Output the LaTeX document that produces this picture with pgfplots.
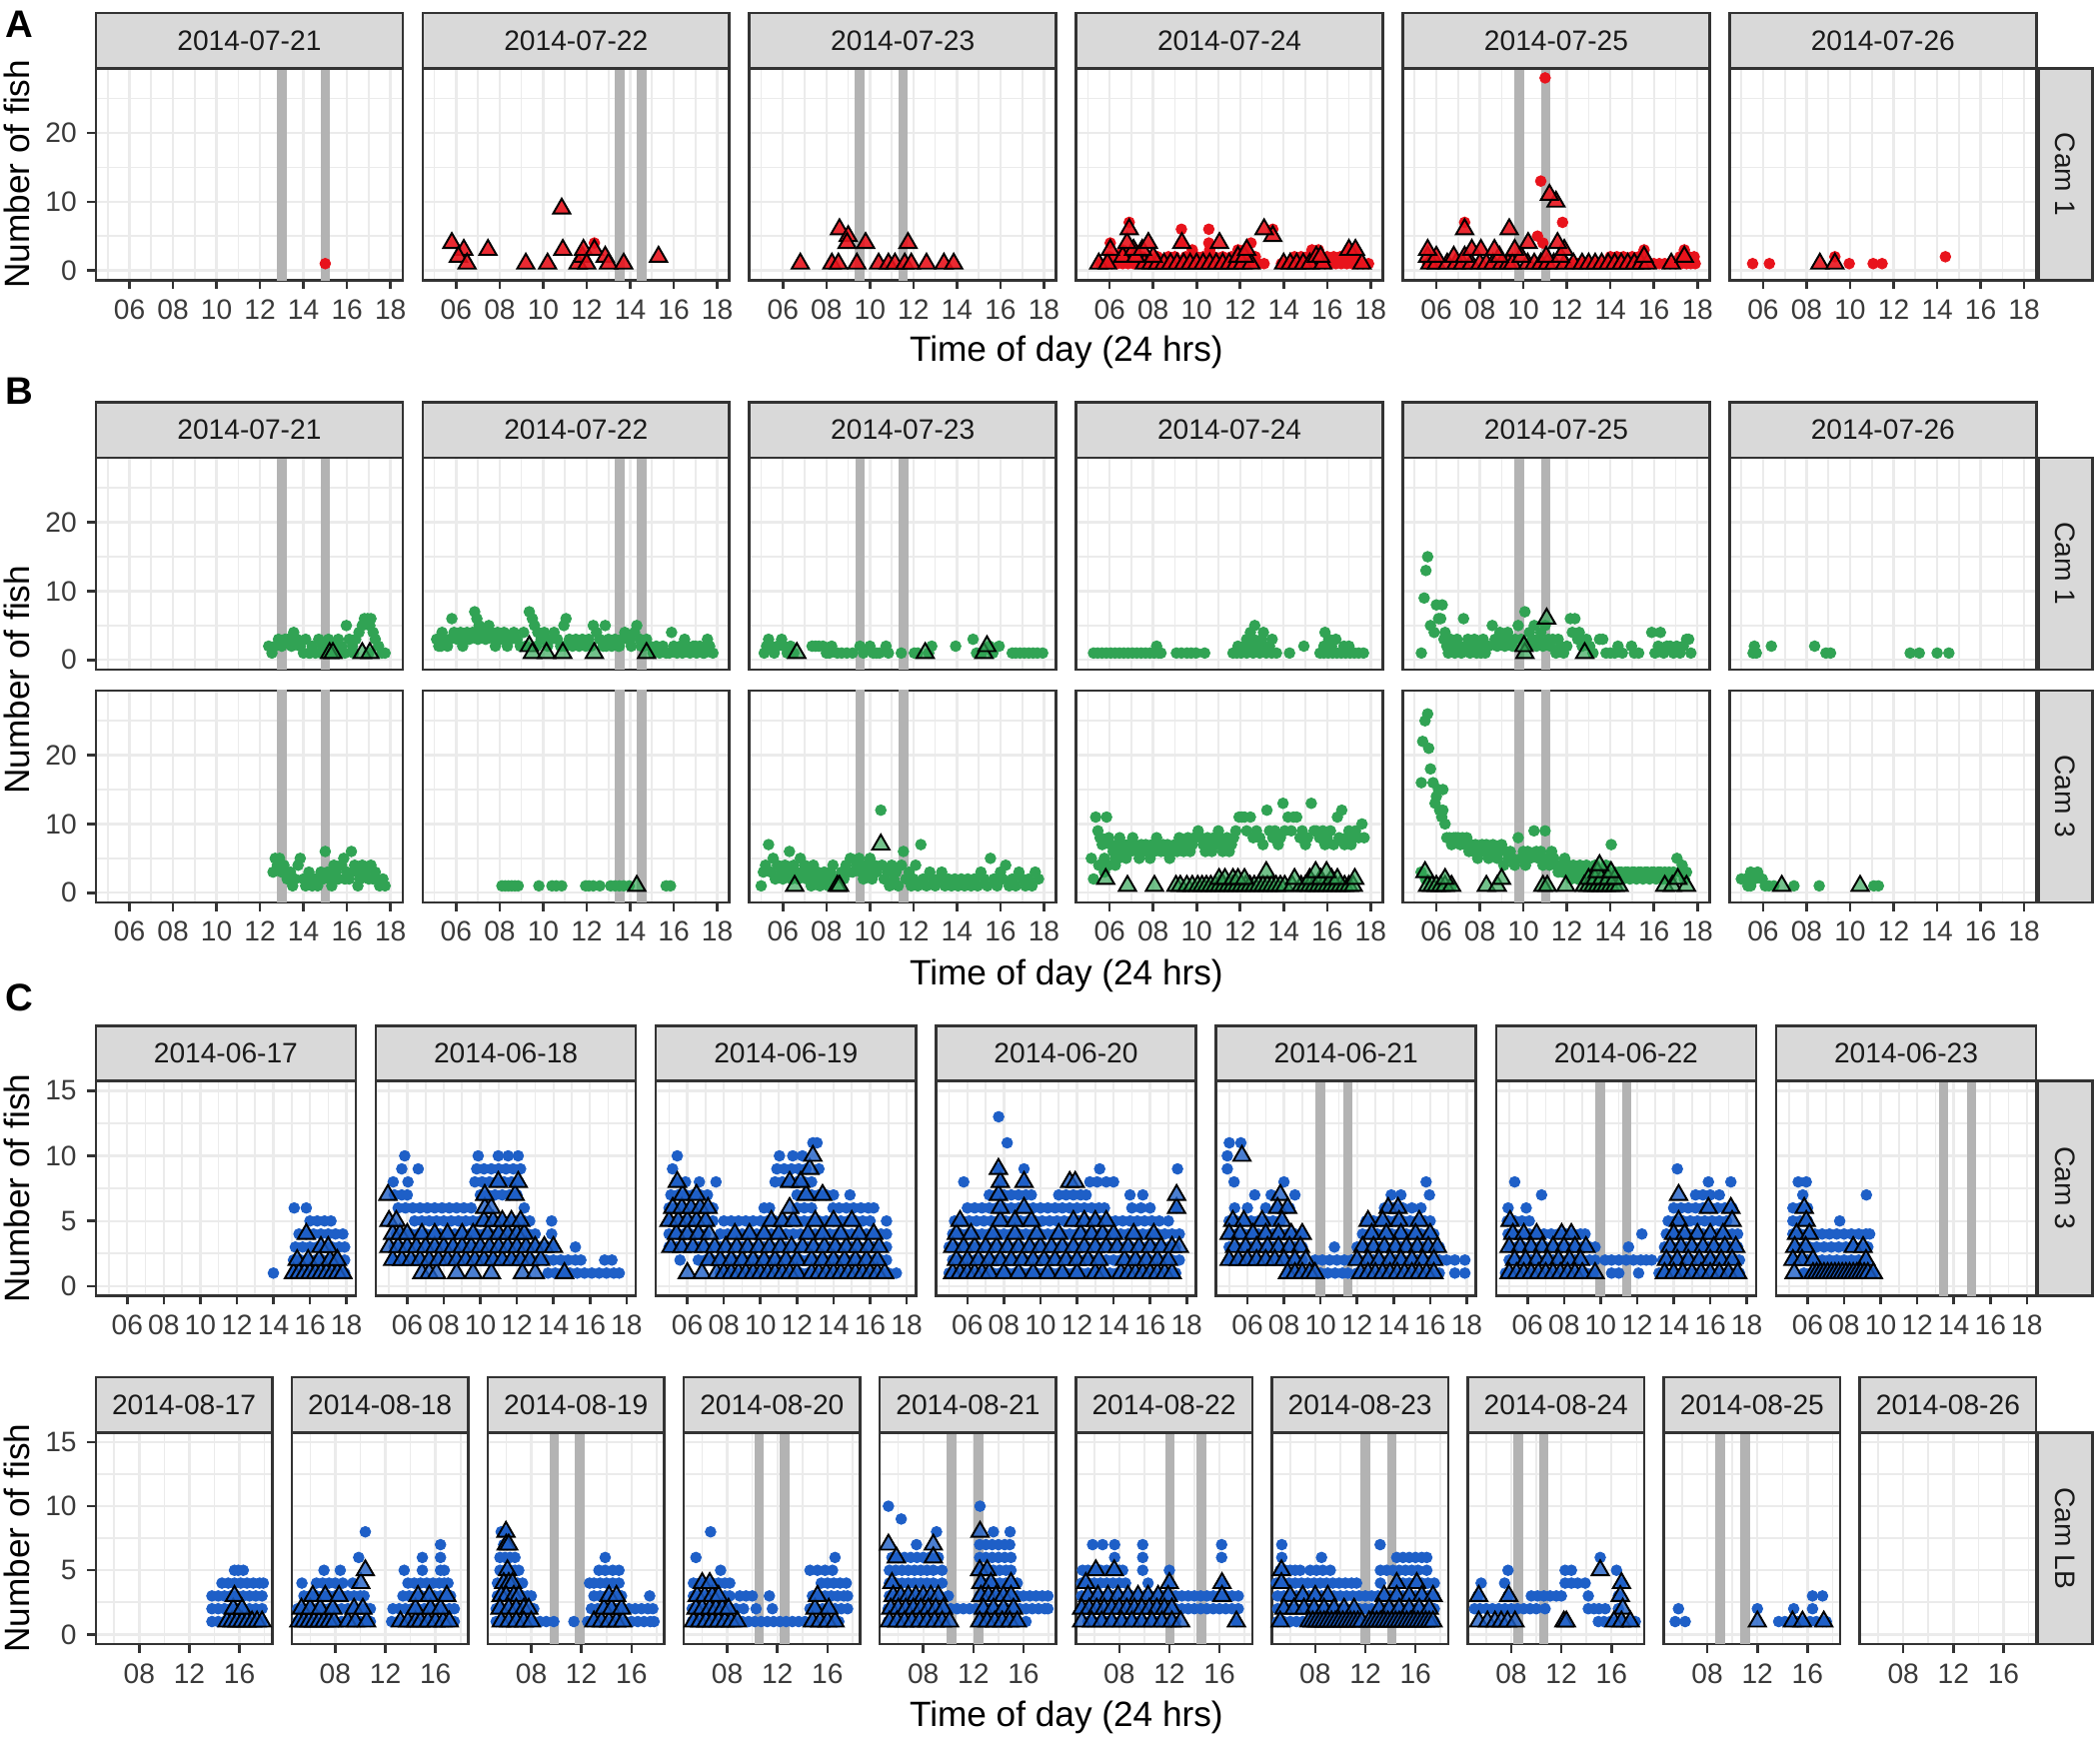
\documentclass[border=0pt]{standalone}
\usepackage{pgfplots}
\pgfplotsset{compat=1.18}
\usepackage{fontspec}
\setmainfont{Liberation Sans}
\definecolor{cred}{HTML}{E8131C}
\definecolor{cgreen}{HTML}{31A354}
\definecolor{cblue}{HTML}{1E5FC7}
\definecolor{gridc}{HTML}{EBEBEB}
\definecolor{grey20}{HTML}{333333}
\definecolor{stripc}{HTML}{D9D9D9}
\definecolor{vlc}{HTML}{B3B3B3}
\definecolor{tickc}{HTML}{3A3A3A}
\definecolor{grey10}{HTML}{1A1A1A}
\newcommand{\tf}{\fontsize{8.8}{10}\selectfont}
\newcommand{\ttl}{\fontsize{11}{13}\selectfont}
\newcommand{\V}[1]{\addplot[draw=vlc, line width=3pt] coordinates {(#1,-5) (#1,40)};}
\newcommand{\C}[2]{\addplot[cir=#1] coordinates {#2};}
\newcommand{\T}[2]{\addplot[tri#1] coordinates {#2};}
\tikzset{stripst/.style={fill=stripc, draw=grey20, line width=0.8pt},
 striptext/.style={font=\tf, text=grey10, inner sep=0pt}}
\newcommand{\strip}[2]{\draw[stripst] (#1.north west) rectangle ([yshift=17.3pt]#1.north east);
 \node[striptext] at ([yshift=8.65pt]#1.north) {#2};}
\newcommand{\rstrip}[2]{\draw[stripst] ([xshift=0.6pt]#1.north east) rectangle ([xshift=17.6pt]#1.south east);
 \node[striptext, rotate=-90] at ([xshift=9.1pt]#1.east) {#2};}
\pgfplotsset{
 cir/.style={only marks, color=#1, mark=*, mark size=1.65pt, mark options={solid, fill=#1, draw=#1, line width=0.3pt}},
 tribase/.style={only marks, color=black, mark=triangle*, mark size=3.1pt},
 trired/.style={tribase, mark options={solid, draw=black, line width=0.6pt, fill=cred, fill opacity=0.9}},
 trigreen/.style={tribase, mark options={solid, draw=black, line width=0.6pt, fill=cgreen, fill opacity=0.68}},
 triblue/.style={tribase, mark options={solid, draw=black, line width=0.6pt, fill=cblue, fill opacity=0.8}},
 base/.style={scale only axis, anchor=north west, clip=true,
  axis line style={draw=grey20, line width=0.8pt},
  grid=both, major grid style={draw=gridc, line width=0.75pt}, minor grid style={draw=gridc, line width=0.5pt},
  tick align=outside, xtick pos=bottom, ytick pos=left,
  major tick length=2.75pt, minor tick length=0pt,
  tick style={draw=grey20, line width=0.8pt},
  xticklabel style={font=\tf, text=tickc, inner sep=0pt, anchor=north, yshift=-3.1pt},
  yticklabel style={font=\tf, text=tickc, inner sep=0pt, anchor=east, xshift=-3.05pt}},
 gAB/.style={base, width=95.9pt, height=66.25pt, xmin=4.46, xmax=18.56, ymin=-1.4, ymax=29.4,
  xtick={6,8,10,12,14,16,18}, xticklabels={06,08,10,12,14,16,18}, minor xtick={5,7,9,11,13,15,17},
  ytick={0,10,20}, yticklabels={0,10,20}, minor ytick={5,15,25}},
 gC/.style={base, width=81.3pt, height=67.2pt, xmin=4.28, xmax=18.51, ymin=-0.75, ymax=15.75,
  xtick={6,8,10,12,14,16,18}, xticklabels={06,08,10,12,14,16,18}, minor xtick={5,7,9,11,13,15,17},
  ytick={0,5,10,15}, yticklabels={0,5,10,15}, minor ytick={2.5,7.5,12.5}},
 gD/.style={base, width=55.16pt, height=66.15pt, xmin=4.53, xmax=18.61, ymin=-0.75, ymax=15.75,
  xtick={8,12,16}, xticklabels={08,12,16}, minor xtick={6,10,14,18},
  ytick={0,5,10,15}, yticklabels={0,5,10,15}, minor ytick={2.5,7.5,12.5}},
 nox/.style={xticklabels={}, major x tick style={draw=none}},
 noy/.style={yticklabels={}, major y tick style={draw=none}},
}
\begin{document}
\begin{tikzpicture}
\useasboundingbox (0,0) rectangle (656.5625pt,-544.0625pt);
% ================= A =================
\begin{axis}[gAB, at={(30pt,-21.34pt)}, name=a1]
\V{13}\V{15}
\C{cred}{(15,1)}
\end{axis}
\begin{axis}[gAB, noy, at={(132.15pt,-21.34pt)}, name=a2]
\V{13.52}\V{14.52}
\C{cred}{(12.35,4)}
\T{red}{(5.8,4)(6.35,3)(6.1,2)(6.5,1)(7.46,3)(9.2,1)(10.2,1)(10.85,9)(10.9,3)(11.6,1)(11.8,2)(11.85,3)(12,1)(12.35,3)(12.85,2)(13,1)(13.7,1)(15.3,2)}
\end{axis}
\begin{axis}[gAB, noy, at={(234.3pt,-21.34pt)}, name=a3]
\V{9.53}\V{11.53}
\T{red}{(6.8,1)(8.25,1)(8.55,1)(8.6,6)(9,5)(8.95,4)(9.4,1)(9.8,4)(10.4,1)(10.85,1)(11.15,1)(11.6,1)(11.75,4)(11.9,1)(12.6,1)(13.4,1)(13.85,1)}
\end{axis}
\begin{axis}[gAB, noy, at={(336.45pt,-21.34pt)}, name=a4]
\C{cred}{(5.6,1)(5.85,1)(6.1,1)(6.35,1)(6.6,1)(6.85,1)(7.1,1)(7.35,1)(7.6,1)(7.85,1)(8.1,1)(8.35,1)(8.6,1)(8.85,1)(9.1,1)(9.35,1)(9.6,1)(9.85,1)(10.1,1)(10.35,1)(10.6,1)(10.85,1)(11.1,1)(11.35,1)(11.6,1)(11.85,1)(12.1,1)(12.35,1)(12.6,1)(12.85,1)(13.1,1)(13.9,1)(14.15,1)(14.4,1)(14.65,1)(14.9,1)(15.15,1)(15.4,1)(15.65,1)(15.9,1)(16.15,1)(16.4,1)(16.65,1)(16.9,1)(17.15,1)(17.4,1)(17.65,1)(17.9,1)
(6,2)(6.5,2)(7,2)(7.5,2)(8.2,2)(8.7,2)(9,2)(9.5,2)(10,2)(10.3,2)(10.8,2)(11.2,2)(11.6,2)(12,2)(12.4,2)(12.7,2)(14.5,2)(14.8,2)(15.1,2)(15.4,2)(15.7,2)(16,2)(16.3,2)(16.6,2)(17,2)(17.3,2)
(6.6,3)(7.2,3)(9.8,3)(10.6,3)(11.9,3)(12.2,3)(15.3,3)(15.6,3)(17,3)(17.3,3)(6.03,4)(9.3,4)(10.56,4)(12.5,4)(9.3,6)(10.56,6)(13.5,6)(6.9,7)}
\T{red}{(5.5,1)(5.9,1)(7.6,1)(7.9,1)(8.2,1)(8.5,1)(8.8,1)(9.1,1)(9.4,1)(9.7,1)(10,1)(10.3,1)(10.6,1)(10.9,1)(11.2,1)(11.5,1)(11.8,1)(12.1,1)(12.5,1)(14,1)(14.3,1)(14.6,1)(14.9,1)(15.2,1)(15.8,1)(17.6,1)(6.6,2)(7.2,2)(8,2)(11.9,2)(12.2,2)(15.5,2)(15.7,2)(6.03,3)(7.1,3)(7.5,3)(12.3,3)(17,3)(17.3,3)(6.8,4)(7.78,4)(9.32,4)(11.05,4)(13.5,5)(6.9,6)(13.1,6)}
\end{axis}
\begin{axis}[gAB, noy, at={(438.6pt,-21.34pt)}, name=a5]
\V{9.8}\V{11.03}
\C{cred}{(5.6,1)(6,1)(12,1)(12.25,1)(12.5,1)(12.75,1)(13,1)(13.25,1)(13.5,1)(13.75,1)(14,1)(14.25,1)(14.5,1)(14.75,1)(15,1)(15.25,1)(15.5,1)(15.75,1)(16,1)(16.25,1)(16.5,1)(16.75,1)(17,1)(17.25,1)(17.5,1)(17.7,1)(17.9,1)(14,2)(14.3,2)(14.6,2)(15,2)(15.3,2)(17.2,2)(17.6,2)(17.85,2)(15.55,3)(17.4,3)(10.9,4)(10.65,5)(7.3,7)(11.8,7)(10.8,13)(11,28)}
\T{red}{(5.7,1)(6,1)(6.5,1)(6.9,1)(7.2,1)(7.6,1)(8,1)(8.3,1)(8.6,1)(9,1)(9.3,1)(9.5,1)(10.2,1)(10.5,1)(10.8,1)(11.1,1)(11.4,1)(11.9,1)(12.3,1)(12.7,1)(13,1)(13.3,1)(13.6,1)(13.9,1)(14.2,1)(14.5,1)(14.8,1)(15.1,1)(15.4,1)(15.7,1)(16.8,1)(5.6,2)(6,2)(6.8,2)(7.3,2)(8.9,2)(9.9,2)(11.05,2)(11.7,2)(15.55,2)(17.4,2)(5.6,3)(7.63,3)(8.05,3)(8.67,3)(9.6,3)(11.88,3)(10.22,4)(11.57,4)(7.3,6)(9.35,6)(11.5,10)(11.2,11)}
\end{axis}
\begin{axis}[gAB, noy, at={(540.75pt,-21.34pt)}, name=a6]
\C{cred}{(5.52,1)(6.29,1)(9.3,2)(9.96,1)(11.06,1)(11.47,1)(14.38,2)}
\T{red}{(8.61,1)(9.3,1)}
\end{axis}
\strip{a1}{2014-07-21}\strip{a2}{2014-07-22}\strip{a3}{2014-07-23}\strip{a4}{2014-07-24}\strip{a5}{2014-07-25}\strip{a6}{2014-07-26}
\rstrip{a6}{Cam 1}
% ================= B Cam 1 =================
\begin{axis}[gAB, nox, at={(30pt,-143.1pt)}, name=b1]
\V{13}\V{15}
\C{cgreen}{(12.4,2)(12.55,1)(12.7,2)(12.85,3)(13,2)(13.15,3)(13.3,3)(13.45,2)(13.55,4)(13.7,3)(13.85,2)(14,1)(14.1,3)(14.25,1)(14.4,2)(14.55,1)(14.7,3)(14.85,2)(15,1)(15.15,3)(15.3,2)(15.45,1)(15.6,3)(15.75,2)(15.9,1)(15.97,5)(16.1,3)(16.25,2)(16.4,3)(16.55,4)(16.7,5)(16.8,6)(16.95,6)(17.05,5)(17.1,6)(17.2,4)(17.3,3)(17.45,2)(17.6,1)(17.75,1)(14.3,1)(14.8,1)(15.2,1)(15.6,1)(16.3,1)(17,1)}
\T{green}{(15.2,1)(15.35,1)(16.7,1)(17.05,1)}
\end{axis}
\begin{axis}[gAB, nox, noy, at={(132.15pt,-143.1pt)}, name=b2]
\V{13.52}\V{14.52}
\C{cgreen}{(5.1,3)(5.2,2)(5.35,4)(5.5,3)(5.6,2)(5.8,6)(5.9,4)(6.05,3)(6.2,4)(6.35,3)(6.5,4)(6.6,3)(6.75,4)(6.85,7)(6.95,6)(7.05,5)(7.2,4)(7.35,3)(7.5,5)(7.6,4)(7.75,3)(7.9,4)(8.05,3)(8.2,4)(8.35,2)(8.5,3)(8.65,4)(8.8,3)(8.95,2)(9.1,4)(9.36,7)(9.5,6)(9.6,5)(9.75,4)(9.9,3)(10.05,4)(10.2,2)(10.35,3)(10.5,4)(10.65,3)(10.8,2)(10.95,5)(11.05,6)(11.2,3)(11.35,2)(11.5,3)(11.65,2)(11.8,3)(11.95,2)(12.1,3)(12.3,5)(12.45,4)(12.6,3)(12.75,2)(12.85,5)(13,3)(13.15,2)(13.3,3)(13.45,2)(13.6,3)(13.75,4)(13.9,3)(14.05,2)(14.2,4)(14.3,5)(14.45,3)(14.6,2)(14.75,3)(14.9,2)(15.05,1)(15.2,2)(15.35,1)(15.5,2)(15.65,1)(15.9,4)(16,2)(16.15,1)(16.3,2)(16.5,3)(16.6,2)(16.75,1)(16.9,2)(17.05,1)(17.2,2)(17.35,1)(17.55,3)(17.65,2)(17.8,1)
(5.3,2)(5.7,3)(6.3,2)(7,3)(7.8,2)(8.4,3)(9.2,2)(9.7,2)(10.1,3)(11,2)(12.2,2)(12.9,2)(13.5,2)(14,3)(14.5,2)(15.8,1)(16.4,1)(17,2)(17.4,1)}
\T{green}{(9.36,2)(9.5,1)(10.15,1)(10.9,1)(12.35,1)(14.75,1)}
\end{axis}
\begin{axis}[gAB, nox, noy, at={(234.3pt,-143.1pt)}, name=b3]
\V{9.55}\V{11.55}
\C{cgreen}{(5.14,1)(5.25,2)(5.34,3)(5.45,2)(5.6,1)(5.75,2)(5.94,3)(6.05,2)(6.2,1)(6.35,2)(6.5,1)(7.34,2)(7.5,2)(7.65,2)(7.84,2)(8,1)(8.14,1)(8.24,2)(8.5,1)(8.7,1)(8.94,1)(9.2,1)(9.54,2)(9.7,1)(10,2)(10.15,1)(10.3,1)(10.44,1)(10.74,2)(10.85,1)(11.44,1)(12.04,1)(12.2,1)(12.7,1)(12.84,2)(13.94,2)(14.74,3)(14.9,1)(15.14,1)(15.5,2)(15.65,1)(15.94,2)(16.54,1)(16.7,1)(16.9,1)(17.1,1)(17.3,1)(17.5,1)(17.7,1)(17.94,1)}
\T{green}{(6.64,1)(12.54,1)(15.24,1)(15.38,2)}
\end{axis}
\begin{axis}[gAB, nox, noy, at={(336.45pt,-143.1pt)}, name=b4]
\C{cgreen}{(5.26,1)(5.45,1)(5.65,1)(5.85,1)(6.05,1)(6.25,1)(6.45,1)(6.65,1)(6.85,1)(7.05,1)(7.25,1)(7.45,1)(7.65,1)(7.85,1)(8.05,1)(8.25,1)(8.36,1)(9.07,1)(9.3,1)(9.55,1)(9.75,1)(9.97,1)(10.37,1)(11.67,1)(11.85,1)(12.05,1)(12.3,1)(12.6,1)(12.9,1)(13.2,1)(13.45,1)(13.67,1)(14.27,1)(15.67,1)(15.85,1)(16.05,1)(16.25,1)(16.45,1)(16.65,1)(16.85,1)(17.05,1)(17.25,1)(17.45,1)(17.67,1)
(8.16,2)(11.9,2)(12.2,2)(12.45,2)(12.8,2)(13.1,2)(13.35,2)(14.93,2)(15.85,2)(16.2,2)(16.77,2)(17,2)(12.3,3)(12.6,3)(13,3)(13.47,3)(16.07,3)(16.4,3)(12.47,4)(13.07,4)(15.9,4)(12.67,5)}
\end{axis}
\begin{axis}[gAB, nox, noy, at={(438.6pt,-143.1pt)}, name=b5]
\V{9.8}\V{11.03}
\C{cgreen}{(5.31,1)(5.44,9)(5.52,13)(5.6,15)(5.73,5)(5.9,4)(6,8)(6.1,6)(6.2,6)(6.27,8)(6.35,3)(6.4,4)(6.48,2)(6.55,1)(6.65,3)(6.75,2)(6.85,1)(6.95,3)(7.05,2)(7.15,1)(7.25,6)(7.35,2)(7.45,3)(7.55,1)(7.65,2)(7.75,3)(7.85,1)(7.95,2)(8.05,1)(8.15,3)(8.25,1)(8.4,2)(8.57,5)(8.7,3)(8.8,2)(8.92,4)(9.05,3)(9.15,2)(9.28,4)(9.4,3)(9.5,2)(9.62,3)(9.76,5)(9.9,3)(10.07,7)(10.15,2)(10.28,4)(10.4,3)(10.5,5)(10.6,2)(10.7,3)(10.8,4)(10.9,2)(11,5)(11.15,3)(11.25,2)(11.35,3)(11.5,1)(11.6,3)(11.7,2)(11.85,1)(12,2)(12.16,6)(12.25,4)(12.37,6)(12.5,3)(12.57,4)(12.7,2)(12.9,3)(13.05,2)(13.2,1)(13.5,3)(13.65,3)(13.8,1)(14,1)(14.2,1)(14.35,2)(14.55,1)(14.97,2)(15.1,1)(15.3,1)(15.9,4)(16.05,1)(16.2,2)(16.3,4)(16.45,1)(16.6,2)(16.75,2)(16.9,1)(17.05,2)(17.2,1)(17.35,2)(17.5,3)(17.6,3)(17.7,1)}
\T{green}{(10.07,1)(10.03,2)(11.07,6)(12.82,1)}
\end{axis}
\begin{axis}[gAB, nox, noy, at={(540.75pt,-143.1pt)}, name=b6]
\C{cgreen}{(5.6,2)(5.54,1)(5.69,1)(6.38,2)(8.37,2)(8.89,1)(9.1,1)(12.76,1)(13.18,1)(14,1)(14.54,1)}
\end{axis}
\strip{b1}{2014-07-21}\strip{b2}{2014-07-22}\strip{b3}{2014-07-23}\strip{b4}{2014-07-24}\strip{b5}{2014-07-25}\strip{b6}{2014-07-26}
\rstrip{b6}{Cam 1}
% ================= B Cam 3 =================
\begin{axis}[gAB, at={(30pt,-215.9pt)}, name=b7]
\V{13}\V{15}
\C{cgreen}{(12.6,3)(12.7,5)(12.8,4)(12.9,5)(13,3)(13.1,4)(13.25,2)(13.4,3)(13.5,1)(13.6,2)(13.75,4)(13.85,5)(14,2)(14.1,1)(14.25,3)(14.4,1)(14.5,2)(14.65,1)(14.8,3)(14.9,2)(15,6)(15.1,3)(15.25,2)(15.4,4)(15.5,3)(15.6,2)(15.75,4)(15.85,5)(16,3)(16.1,2)(16.2,6)(16.35,4)(16.45,3)(16.6,2)(16.7,4)(16.85,3)(17,2)(17.1,4)(17.2,2)(17.35,2)(17.5,1)(17.65,2)(17.75,1)(14.2,2)(14.7,2)(15.3,1)(15.9,2)(16.5,1)(17.3,3)}
\end{axis}
\begin{axis}[gAB, noy, at={(132.15pt,-215.9pt)}, name=b8]
\V{13.52}\V{14.52}
\C{cgreen}{(8.1,1)(8.25,1)(8.4,1)(8.55,1)(8.7,1)(8.85,1)(9.8,1)(10.4,1)(10.6,1)(10.85,1)(11.95,1)(12.1,1)(12.3,1)(12.6,1)(13.1,1)(13.3,1)(13.5,1)(13.7,1)(13.95,1)(15.65,1)(15.85,1)}
\T{green}{(14.3,1)}
\end{axis}
\begin{axis}[gAB, noy, at={(234.3pt,-215.9pt)}, name=b9]
\V{9.55}\V{11.55}
\C{cgreen}{(5,1)(5.1,3)(5.2,4)(5.34,7)(5.45,3)(5.55,5)(5.65,2)(5.75,4)(5.9,3)(6,2)(6.1,4)(6.2,3)(6.3,6)(6.4,2)(6.5,4)(6.6,3)(6.7,2)(6.8,5)(6.9,3)(7,4)(7.1,2)(7.2,3)(7.3,1)(7.4,4)(7.5,2)(7.6,3)(7.7,1)(7.8,2)(7.9,3)(8,2)(8.1,1)(8.2,3)(8.3,4)(8.4,2)(8.7,3)(8.8,2)(8.9,4)(9,3)(9.1,5)(9.2,3)(9.4,4)(9.5,5)(9.6,3)(9.7,2)(9.8,4)(9.9,3)(10,5)(10.1,2)(10.2,4)(10.3,3)(10.5,12)(10.55,4)(10.65,2)(10.8,3)(10.9,1)(11,4)(11.1,2)(11.2,3)(11.3,1)(11.45,4)(11.54,6)(11.65,2)(11.8,3)(11.9,1)(12,2)(12.1,4)(12.2,1)(12.34,7)(12.45,2)(12.6,1)(12.75,3)(12.9,2)(13,1)(13.15,2)(13.3,3)(13.45,1)(13.6,2)(13.75,1)(13.9,2)(14.05,1)(14.2,2)(14.35,1)(14.5,2)(14.65,1)(14.8,2)(14.95,1)(15.1,3)(15.25,2)(15.4,1)(15.54,5)(15.7,2)(15.85,1)(16,3)(16.1,2)(16.24,4)(16.4,1)(16.55,2)(16.7,1)(16.85,3)(17,2)(17.15,1)(17.3,2)(17.45,1)(17.6,3)(17.75,2)}
\T{green}{(6.54,1)(8.5,1)(8.6,1)(10.5,7)}
\end{axis}
\begin{axis}[gAB, noy, at={(336.45pt,-215.9pt)}, name=b10]
\C{cgreen}{(5.16,5)(5.26,2)(5.36,11)(5.46,9)(5.56,8)(5.66,7)(5.76,3)(5.86,11)(5.96,8)(6.06,7)(6.16,6)(6.26,5)(6.36,7)(6.46,8)(6.56,6)(6.66,7)(6.76,5)(6.86,7)(6.96,6)(7.06,8)(7.16,7)(7.26,6)(7.36,5)(7.46,7)(7.56,6)(7.66,7)(7.76,6)(7.86,5)(7.96,7)(8.06,6)(8.16,8)(8.26,7)(8.36,6)(8.46,7)(8.56,6)(8.66,7)(8.76,5)(8.86,6)(9,7)(9.1,6)(9.2,8)(9.3,7)(9.4,6)(9.5,7)(9.6,8)(9.7,6)(9.8,7)(9.9,8)(10.07,9)(10.2,8)(10.3,7)(10.4,6)(10.5,8)(10.6,7)(10.7,6)(10.8,8)(10.9,7)(11,9)(11.1,8)(11.2,6)(11.3,7)(11.4,8)(11.5,6)(11.6,7)(11.7,8)(11.8,9)(11.95,11)(12.07,11)(12.2,11)(12.3,9)(12.47,11)(12.6,8)(12.75,9)(12.9,8)(13.05,7)(13.23,12)(13.35,9)(13.5,8)(13.6,9)(13.75,7)(13.85,8)(13.97,13)(14.05,9)(14.2,11)(14.35,9)(14.45,11)(14.6,11)(14.75,8)(14.85,9)(15,7)(15.1,8)(15.27,13)(15.4,9)(15.5,9)(15.65,8)(15.8,9)(15.9,7)(16,8)(16.15,9)(16.3,7)(16.47,11)(16.55,8)(16.67,12)(16.8,7)(16.9,8)(17,9)(17.1,7)(17.2,8)(17.3,9)(17.45,8)(17.6,10)(17.7,8)(5.5,4)(5.76,5)(5.96,4)(6.26,4)(6.4,5)}
\T{green}{(6.82,1)(8.06,1)(9.05,1)(9.25,1)(9.55,1)(9.8,1)(10.05,1)(10.25,1)(10.45,1)(10.65,1)(10.85,1)(11.05,1)(11.25,1)(11.45,1)(11.65,1)(11.85,1)(12.05,1)(12.25,1)(12.45,1)(12.65,1)(12.85,1)(13.05,1)(13.25,1)(13.45,1)(13.65,1)(13.85,1)(14.05,1)(14.4,1)(14.8,1)(15,1)(15.2,1)(15.4,1)(15.6,1)(15.8,1)(16,1)(16.2,1)(16.4,1)(16.6,1)(16.8,1)(17,1)(17.2,1)(5.82,2)(11.03,2)(11.3,2)(11.67,2)(11.9,2)(12.2,2)(14.5,2)(15.2,2)(15.7,2)(16.2,2)(16.47,2)(17.27,2)(13.2,3)(15.47,3)(15.97,3)}
\end{axis}
\begin{axis}[gAB, noy, at={(438.6pt,-215.9pt)}, name=b11]
\V{9.8}\V{11.03}
\C{cgreen}{(5.3,3)(5.37,22)(5.48,25)(5.6,26)(5.65,21)(5.73,18)(5.31,16)(5.85,16)(6.1,15)(6.3,15)(5.94,13)(6,14)(6.15,12)(6.3,12)(6.25,11)(6.4,10)(6.48,8)(6.6,8)(6.7,7)(6.8,8)(6.9,8)(7,8)(7.1,7)(7.2,8)(7.3,7)(7.4,8)(7.5,6)(7.6,7)(7.7,6)(7.8,7)(7.9,5)(8,6)(8.1,7)(8.2,6)(8.3,7)(8.4,5)(8.5,6)(8.6,7)(8.7,6)(8.8,5)(8.9,6)(9,7)(9.1,4)(9.2,6)(9.3,5)(9.4,6)(9.5,5)(9.6,4)(9.76,8)(9.9,5)(10,6)(10.1,4)(10.2,6)(10.3,5)(10.49,9)(10.6,6)(10.7,5)(10.8,6)(10.9,4)(11,9)(11.1,5)(11.2,4)(11.3,6)(11.4,5)(11.5,4)(11.6,3)(11.7,4)(11.8,3)(11.9,5)(12,3)(12.1,4)(12.2,2)(12.3,4)(12.4,3)(12.5,2)(12.6,4)(12.7,3)(12.8,2)(12.9,4)(13,3)(13.1,2)(13.2,3)(13.3,4)(13.4,2)(13.5,3)(13.6,2)(13.7,3)(13.8,4)(13.9,3)(14.04,7)(14.1,2)(14.2,3)(14.3,2)(14.4,3)(14.5,3)(14.6,2)(14.7,3)(14.8,3)(14.9,2)(15,3)(15.1,3)(15.2,2)(15.3,3)(15.4,3)(15.5,2)(15.6,3)(15.7,3)(15.8,2)(15.9,3)(16,3)(16.1,2)(16.2,3)(16.3,3)(16.4,2)(16.5,3)(16.6,2)(16.7,3)(16.8,2)(16.9,3)(17.06,5)(17.2,3)(17.3,4)(17.4,2)(17.5,3)(6.7,1)(5.5,2)}
\T{green}{(5.6,1)(5.8,1)(6,1)(6.2,1)(6.4,1)(6.7,1)(8.3,1)(8.8,1)(10.9,1)(11.1,1)(11.95,1)(12.8,1)(13,1)(13.2,1)(13.4,1)(13.6,1)(13.8,1)(14,1)(14.2,1)(14.4,1)(16.5,1)(16.85,1)(17.5,1)(6.4,2)(9,2)(13,2)(13.3,2)(13.6,2)(13.9,2)(14.2,2)(17.1,2)(5.48,3)(13.4,3)(14.03,3)(13.5,4)}
\end{axis}
\begin{axis}[gAB, noy, at={(540.75pt,-215.9pt)}, name=b12]
\C{cgreen}{(5,2)(5.2,2)(5.43,3)(5.75,3)(5.43,1)(5.6,2)(5.96,2)(5.3,1)(6.27,1)(6.1,1)(6.5,1)(7.42,1)(8.58,1)(11.09,1)(11.3,1)}
\T{green}{(6.86,1)(10.46,1)}
\end{axis}
\rstrip{b12}{Cam 3}
% ================= C Cam 3 =================
\begin{axis}[gC, at={(29.94pt,-338pt)}, name=c1]
\C{cblue}{(14,1)(15.1,1)(15.5,1)(15.9,1)(16.3,1)(16.7,1)(17.1,1)(17.5,1)(17.9,1)(15.1,2)(15.5,2)(15.9,2)(16.3,2)(16.7,2)(17.1,2)(17.5,2)(17.9,2)(15.2,3)(15.6,3)(16,3)(16.4,3)(16.8,3)(17.2,3)(17.6,3)(17.9,3)(15.4,4)(15.8,4)(16.2,4)(16.6,4)(17,4)(17.4,4)(17.8,4)(16,5)(16.4,5)(16.8,5)(17.15,5)(15.14,6)(15.8,6)}
\T{blue}{(15.1,1)(15.4,1)(15.7,1)(16,1)(16.3,1)(16.6,1)(16.9,1)(17.2,1)(17.5,1)(17.8,1)(15.3,2)(15.9,2)(16.5,2)(17.1,2)(17.5,2)(16.6,3)(17,3)(15.8,4)}
\end{axis}
\begin{axis}[gC, noy, at={(117.5pt,-338pt)}, name=c2]
\C{cblue}{(13.7,1)(14.1,1)(14.5,1)(14.9,1)(15.3,1)(15.7,1)(16.1,1)(16.5,1)(16.9,1)(17.3,1)(17.6,1)
(5.2,2)(5.6,2)(6,2)(6.4,2)(6.8,2)(7.2,2)(7.6,2)(8,2)(8.4,2)(8.8,2)(9.2,2)(9.6,2)(10,2)(10.4,2)(10.8,2)(11.2,2)(11.6,2)(12,2)(12.4,2)(12.8,2)(13.2,2)(13.6,2)(14,2)(14.4,2)(14.8,2)(15.2,2)(15.5,2)(16.8,2)(17.2,2)
(5.3,3)(5.7,3)(6.1,3)(6.5,3)(6.9,3)(7.3,3)(7.7,3)(8.1,3)(8.5,3)(8.9,3)(9.3,3)(9.7,3)(10.1,3)(10.5,3)(10.9,3)(11.3,3)(11.7,3)(12.1,3)(12.5,3)(12.9,3)(13.3,3)(13.7,3)(14,3)(15.2,3)
(5.4,4)(5.8,4)(6.2,4)(6.6,4)(7,4)(7.4,4)(7.8,4)(8.2,4)(8.6,4)(9,4)(9.4,4)(9.8,4)(10.2,4)(10.6,4)(11,4)(11.4,4)(11.8,4)(12.2,4)(12.6,4)(13,4)(13.9,4)
(6.4,5)(6.8,5)(7.2,5)(7.6,5)(8,5)(8.4,5)(8.8,5)(9.2,5)(9.6,5)(10,5)(10.4,5)(10.8,5)(11.2,5)(11.6,5)(12,5)(12.4,5)(12.7,5)(13.9,5)
(5.5,6)(5.9,6)(6.3,6)(6.7,6)(7.1,6)(7.5,6)(7.9,6)(8.3,6)(8.7,6)(9.1,6)(9.5,6)(12.4,6)
(5.3,7)(5.7,7)(6,7)(10,7)(10.4,7)(10.8,7)(11.2,7)(11.6,7)(12,7)
(5.23,8)(6.04,8)(9.7,8)(10.1,8)(10.5,8)(10.9,8)(11.3,8)(11.7,8)(12.1,8)
(5.7,9)(6.6,9)(9.8,9)(10.2,9)(10.6,9)(11,9)(11.4,9)(11.8,9)(12.2,9)(5.86,10)(9.88,10)(10.98,10)(11.52,10)(12.07,10)}
\T{blue}{(6.8,1)(7.2,1)(7.6,1)(8.7,1)(9.6,1)(10.6,1)(12.3,1)(13,1)(14.6,1)
(5.2,2)(5.7,2)(6.2,2)(6.7,2)(7.2,2)(7.7,2)(8.2,2)(8.7,2)(9.2,2)(9.7,2)(10.2,2)(10.7,2)(11.2,2)(11.7,2)(12.2,2)(12.7,2)(13.3,2)
(5,3)(5.5,3)(6,3)(6.5,3)(7,3)(7.5,3)(8,3)(8.5,3)(9,3)(9.5,3)(10,3)(10.5,3)(11,3)(11.5,3)(12,3)(12.5,3)(13,3)(13.5,3)(14,3)
(5.2,4)(5.6,4)(6,4)(6.8,4)(7.5,4)(8.2,4)(9,4)(9.6,4)(10.4,4)(11,4)(11.5,4)(12,4)(12.4,4)
(5,5)(5.4,5)(10.2,5)(10.7,5)(11.2,5)(11.7,5)(12.2,5)(10.24,6)(10.6,6)(4.94,7)(10.24,7)(11.9,7)(10.98,8)(12.07,8)}
\end{axis}
\begin{axis}[gC, noy, at={(205.06pt,-338pt)}, name=c3]
\C{cblue}{(7.8,1)(8.2,1)(8.6,1)(9,1)(9.4,1)(9.8,1)(10.2,1)(10.6,1)(11,1)(11.4,1)(11.8,1)(12.2,1)(12.6,1)(13,1)(13.4,1)(13.8,1)(14.2,1)(14.6,1)(15,1)(15.4,1)(15.8,1)(16.2,1)(16.6,1)(17,1)(17.44,1)
(5.6,2)(6.6,2)(7,2)(7.4,2)(7.8,2)(8.2,2)(8.6,2)(9,2)(9.4,2)(9.8,2)(10.2,2)(10.6,2)(11,2)(11.4,2)(11.8,2)(12.2,2)(12.6,2)(13,2)(13.4,2)(13.8,2)(14.2,2)(14.6,2)(15,2)(15.4,2)(15.8,2)(16.2,2)(16.6,2)(16.9,2)
(5,3)(5.4,3)(5.8,3)(6.2,3)(6.6,3)(7,3)(7.4,3)(7.8,3)(8.2,3)(8.6,3)(9,3)(9.4,3)(9.8,3)(10.2,3)(10.6,3)(11,3)(11.4,3)(11.8,3)(12.2,3)(12.6,3)(13,3)(13.4,3)(13.8,3)(14.2,3)(14.6,3)(15,3)(15.4,3)(15.8,3)(16.2,3)(16.6,3)(16.9,3)
(5,4)(5.4,4)(5.8,4)(6.2,4)(6.6,4)(7,4)(7.8,4)(8.2,4)(8.6,4)(9,4)(9.4,4)(9.8,4)(10.2,4)(10.6,4)(11,4)(11.4,4)(11.8,4)(12.2,4)(12.6,4)(13,4)(13.4,4)(13.8,4)(14.2,4)(14.6,4)(15,4)(15.4,4)(15.8,4)(16.2,4)(16.6,4)(16.9,4)
(5,5)(5.4,5)(5.8,5)(6.2,5)(6.6,5)(7,5)(7.4,5)(8,5)(8.4,5)(8.8,5)(9.2,5)(9.6,5)(10,5)(10.4,5)(10.8,5)(11.2,5)(11.6,5)(12,5)(12.4,5)(12.8,5)(13.2,5)(13.6,5)(14,5)(14.4,5)(14.8,5)(15.2,5)(15.6,5)(16,5)(16.9,5)
(5,6)(5.4,6)(5.8,6)(6.2,6)(6.6,6)(7,6)(7.4,6)(10.2,6)(10.5,6)(12,6)(12.4,6)(12.8,6)(13.97,6)(14.3,6)(14.7,6)(15.1,6)(15.5,6)(15.9,6)(16.2,6)
(5.1,7)(5.5,7)(5.9,7)(6.3,7)(6.7,7)(7.1,7)(12,7)(12.4,7)(12.8,7)(13.2,7)(13.6,7)(14,7)(14.9,7)
(5.4,8)(5.9,8)(6.66,8)(7.57,8)(10.8,8)(11.2,8)(11.6,8)(12,8)(12.4,8)(12.8,8)
(5.19,9)(10.9,9)(11.3,9)(11.7,9)(12.1,9)(12.5,9)(13.2,9)(5.45,10)(11.04,10)(11.77,10)(12.3,10)(12.87,11)(13.1,11)}
\T{blue}{(6,1)(6.8,1)(7.6,1)(8,1)(8.4,1)(8.8,1)(9.2,1)(9.6,1)(10,1)(10.4,1)(10.8,1)(11.2,1)(11.6,1)(12,1)(12.8,1)(13.2,1)(13.6,1)(14,1)(14.4,1)(14.8,1)(15.2,1)(15.6,1)(16,1)(16.4,1)(16.8,1)
(7.2,2)(7.8,2)(8.4,2)(9,2)(9.6,2)(10.2,2)(10.8,2)(11.4,2)(12,2)(12.8,2)(13.4,2)(14,2)(14.6,2)(15.2,2)(15.8,2)(16.4,2)
(5.1,3)(5.7,3)(6.3,3)(6.9,3)(7.5,3)(8.1,3)(8.7,3)(9.3,3)(9.9,3)(10.5,3)(11.1,3)(11.7,3)(12.3,3)(12.9,3)(13.5,3)(14.1,3)(14.7,3)(15.3,3)(15.9,3)(16.5,3)
(5.4,4)(6,4)(6.6,4)(7.2,4)(8.6,4)(9.4,4)(10.2,4)(11,4)(12.6,4)(13.4,4)(14.4,4)(15.4,4)(16.2,4)
(5,5)(5.5,5)(6,5)(6.5,5)(7,5)(10.6,5)(11.2,5)(11.8,5)(13,5)(14,5)(15,5)
(5.2,6)(5.7,6)(6.2,6)(6.7,6)(7.13,6)(11.6,6)(5.74,7)(6.5,7)(12.5,7)(13.4,7)(5.45,8)(11.6,8)(12.2,8)(12.7,9)(12.87,10)}
\end{axis}
\begin{axis}[gC, noy, at={(292.62pt,-338pt)}, name=c4]
\C{cblue}{(5,1)(5.4,1)(5.8,1)(6.2,1)(6.6,1)(7,1)(7.4,1)(7.8,1)(8.2,1)(8.6,1)(9,1)(9.4,1)(9.8,1)(10.2,1)(10.6,1)(11,1)(11.4,1)(11.8,1)(12.2,1)(12.6,1)(13,1)(13.4,1)(13.8,1)(14.2,1)(14.6,1)(15,1)(15.4,1)(15.8,1)(16.2,1)(16.6,1)(17,1)(17.4,1)
(5.2,2)(5.6,2)(6,2)(6.4,2)(6.8,2)(7.2,2)(7.6,2)(8,2)(8.4,2)(8.8,2)(9.2,2)(9.6,2)(10,2)(10.4,2)(10.8,2)(11.2,2)(11.6,2)(12,2)(12.4,2)(12.8,2)(13.2,2)(13.6,2)(14,2)(14.4,2)(14.8,2)(15.2,2)(15.6,2)(16,2)(16.4,2)(16.8,2)(17.2,2)(17.6,2)
(5,3)(5.4,3)(5.8,3)(6.2,3)(6.6,3)(7,3)(7.4,3)(7.8,3)(8.2,3)(8.6,3)(9,3)(9.4,3)(9.8,3)(10.2,3)(10.6,3)(11,3)(11.4,3)(11.8,3)(12.2,3)(12.6,3)(13,3)(13.4,3)(13.8,3)(14.2,3)(14.6,3)(15,3)(15.4,3)(15.8,3)(16.2,3)(16.6,3)(17,3)(17.4,3)
(5.2,4)(5.6,4)(6,4)(6.4,4)(6.8,4)(7.2,4)(7.6,4)(8,4)(8.4,4)(8.8,4)(9.2,4)(9.6,4)(10,4)(10.4,4)(10.8,4)(11.2,4)(11.6,4)(12,4)(12.4,4)(12.8,4)(13.2,4)(13.6,4)(14,4)(14.4,4)(14.8,4)(15.2,4)(15.6,4)(16,4)(16.4,4)(16.8,4)(17.2,4)(17.6,4)
(5.3,5)(5.7,5)(6.1,5)(6.5,5)(6.9,5)(7.3,5)(7.7,5)(8.1,5)(8.5,5)(8.9,5)(9.3,5)(9.7,5)(10.1,5)(10.5,5)(10.9,5)(11.3,5)(11.7,5)(12.1,5)(12.5,5)(12.9,5)(13.3,5)(13.7,5)(14.1,5)(14.5,5)(14.9,5)(15.3,5)(15.7,5)(16.1,5)(16.5,5)(17,5)
(6,6)(6.4,6)(6.8,6)(7.2,6)(7.6,6)(8,6)(8.4,6)(8.8,6)(9.2,6)(9.6,6)(10,6)(10.4,6)(10.8,6)(11.2,6)(11.6,6)(12,6)(12.4,6)(12.8,6)(13.2,6)(13.5,6)(15,6)(15.5,6)(16,6)(17.45,6)
(7.2,7)(7.6,7)(8,7)(8.4,7)(8.8,7)(9.2,7)(9.5,7)(11,7)(11.4,7)(11.8,7)(12.2,7)(12.5,7)(14.9,7)(15.6,7)
(5.8,8)(7.8,8)(9.1,8)(12.7,8)(13.1,8)(13.6,8)(14,8)(7.7,9)(9.1,9)(13.24,9)(17.5,9)(8.18,11)(7.71,13)}
\T{blue}{(5.2,1)(5.6,1)(6,1)(6.4,1)(6.8,1)(7.2,1)(8,1)(8.8,1)(9.6,1)(10.4,1)(11.2,1)(12,1)(13,1)(13.4,1)(14.4,1)(14.8,1)(15.2,1)(15.6,1)(16,1)(16.4,1)(16.8,1)(17.2,1)
(5.4,2)(6,2)(6.6,2)(7.2,2)(7.8,2)(8.4,2)(9,2)(9.6,2)(10.2,2)(10.8,2)(11.4,2)(12,2)(12.6,2)(13.2,2)(14.6,2)(15.2,2)(15.8,2)(16.4,2)(17,2)
(5.2,3)(5.8,3)(6.4,3)(7,3)(7.6,3)(8.2,3)(8.8,3)(9.4,3)(10,3)(10.6,3)(11.2,3)(11.8,3)(12.4,3)(13,3)(13.6,3)(14.2,3)(14.8,3)(15.4,3)(16,3)(16.6,3)(17.2,3)(17.6,3)
(5.4,4)(6.2,4)(7.4,4)(8.6,4)(9.8,4)(11,4)(12.2,4)(12.8,4)(13.4,4)(14,4)(15.1,4)(16.2,4)
(5.6,5)(7.8,5)(8.6,5)(9.5,5)(11.8,5)(12.4,5)(13,5)(13.6,5)(7.8,6)(9.1,6)(17.45,6)(7.7,7)(17.45,7)(7.8,8)(9.1,8)(11.6,8)(11.9,8)(7.7,9)}
\end{axis}
\begin{axis}[gC, noy, at={(380.18pt,-338pt)}, name=c5]
\V{10}\V{11.5}
\C{cblue}{(5.01,11)(5.64,11)(4.9,10)(4.9,9)(5.27,8)(8,8)(15.78,8)(6.4,7)(7.3,7)(8.6,7)(13.87,7)(14.4,7)(15.96,7)
(5.3,6)(6,6)(7,6)(7.6,6)(8.3,6)(13.5,6)(14,6)(14.5,6)(15,6)(15.5,6)
(5,5)(5.4,5)(5.8,5)(6.2,5)(6.6,5)(7,5)(7.4,5)(7.8,5)(12.5,5)(12.9,5)(13.3,5)(13.7,5)(14.1,5)(14.5,5)(14.9,5)(15.3,5)(15.7,5)(16,5)
(5,4)(5.4,4)(5.8,4)(6.2,4)(6.6,4)(7,4)(7.4,4)(7.8,4)(8.2,4)(8.6,4)(9,4)(12.3,4)(12.7,4)(13.1,4)(13.5,4)(13.9,4)(14.3,4)(14.7,4)(15.1,4)(15.5,4)(15.9,4)(16.2,4)
(5,3)(5.4,3)(5.8,3)(6.2,3)(6.6,3)(7,3)(7.4,3)(7.8,3)(8.2,3)(8.6,3)(9,3)(10.76,3)(12,3)(12.4,3)(12.8,3)(13.2,3)(13.6,3)(14,3)(14.4,3)(14.8,3)(15.2,3)(15.6,3)(16,3)(16.5,3)
(5,2)(5.4,2)(5.8,2)(6.2,2)(6.6,2)(7,2)(7.4,2)(7.8,2)(8.2,2)(8.6,2)(9,2)(9.7,2)(10.1,2)(10.5,2)(10.9,2)(11.3,2)(11.7,2)(12.1,2)(12.5,2)(12.9,2)(13.3,2)(13.7,2)(14.1,2)(14.5,2)(14.9,2)(15.3,2)(15.7,2)(16.1,2)(16.5,2)(16.9,2)(17.35,2)(17.9,2)
(8.2,1)(8.6,1)(9,1)(9.4,1)(9.7,1)(10,1)(10.4,1)(10.8,1)(11.2,1)(11.5,1)(12,1)(12.4,1)(12.8,1)(13.2,1)(13.6,1)(14,1)(14.4,1)(14.8,1)(15.2,1)(15.6,1)(16,1)(16.5,1)(17.35,1)(17.9,1)}
\T{blue}{(5.7,10)(7.8,7)(7.65,6)(8.2,6)(13.7,6)(14.24,6)(5.2,5)(5.8,5)(6.8,5)(7.9,5)(12.6,5)(13.4,5)(14.3,5)(15.4,5)
(5,4)(5.6,4)(6.3,4)(7,4)(7.7,4)(8.4,4)(9,4)(12.8,4)(13.6,4)(14.4,4)(15.2,4)(16,4)
(5.3,3)(5.9,3)(6.5,3)(7.1,3)(7.7,3)(8.3,3)(8.9,3)(12.3,3)(12.9,3)(13.5,3)(14.1,3)(14.7,3)(15.3,3)(15.9,3)(16.4,3)
(5,2)(5.5,2)(6,2)(6.5,2)(7,2)(7.5,2)(8,2)(8.6,2)(9.2,2)(12,2)(12.6,2)(13.2,2)(13.8,2)(14.4,2)(15,2)(15.6,2)(16.2,2)
(8.2,1)(8.6,1)(9,1)(9.4,1)(9.7,1)(12.2,1)(12.6,1)(13,1)(13.4,1)(13.8,1)(14.2,1)(14.6,1)(15,1)(15.4,1)(15.8,1)(16.2,1)}
\end{axis}
\begin{axis}[gC, noy, at={(467.74pt,-338pt)}, name=c6]
\V{9.97}\V{11.43}
\C{cblue}{(14.2,9)(5.3,8)(15.9,8)(17.13,8)(6.77,7)(15.2,7)(15.6,7)(16,7)(16.5,7)
(4.94,6)(5.93,6)(14,6)(14.4,6)(14.8,6)(15.2,6)(15.6,6)(16,6)(16.4,6)(16.8,6)(17.2,6)
(4.9,5)(5.3,5)(5.7,5)(6.1,5)(13.7,5)(14.1,5)(14.5,5)(14.9,5)(15.3,5)(15.7,5)(16.1,5)(16.5,5)(16.9,5)
(4.94,4)(5.3,4)(5.7,4)(6.1,4)(6.5,4)(6.9,4)(7.3,4)(7.7,4)(8.1,4)(8.5,4)(8.9,4)(9.15,4)(12.26,4)(13.6,4)(14,4)(14.4,4)(14.8,4)(15.2,4)(15.6,4)(16,4)(16.4,4)(16.8,4)(17.2,4)(17.5,4)
(5,3)(5.4,3)(5.8,3)(6.2,3)(6.6,3)(7,3)(7.4,3)(7.8,3)(8.2,3)(8.6,3)(9,3)(9.4,3)(9.7,3)(11.53,3)(13.5,3)(13.9,3)(14.3,3)(14.7,3)(15.1,3)(15.5,3)(15.9,3)(16.3,3)(16.7,3)(17.1,3)(17.5,3)
(5,2)(5.4,2)(5.8,2)(6.2,2)(6.6,2)(7,2)(7.4,2)(7.8,2)(8.2,2)(8.6,2)(9,2)(9.4,2)(9.7,2)(10.25,2)(10.6,2)(11,2)(11.4,2)(11.8,2)(12.2,2)(12.5,2)(12.8,2)(13.4,2)(13.8,2)(14.2,2)(14.6,2)(15,2)(15.4,2)(15.8,2)(16.2,2)(16.6,2)(17,2)(17.4,2)(17.6,2)
(4.8,1)(5.2,1)(5.6,1)(6,1)(6.4,1)(6.8,1)(7.2,1)(7.6,1)(8,1)(8.4,1)(8.8,1)(9.2,1)(9.6,1)(10.6,1)(11,1)(12.08,1)(13.2,1)(13.6,1)(14,1)(14.4,1)(14.8,1)(15.2,1)(15.6,1)(16,1)(16.4,1)(16.8,1)(17.2,1)(17.6,1)}
\T{blue}{(14.27,7)(15.9,6)(17.13,6)(5.05,5)(14.27,5)(17.2,5)(5.2,4)(5.8,4)(6.5,4)(7.87,4)(8.4,4)(14,4)(14.6,4)(15.3,4)(16,4)(16.7,4)
(5,3)(5.6,3)(6.2,3)(6.8,3)(7.4,3)(8,3)(8.6,3)(9.2,3)(13.8,3)(14.4,3)(15,3)(15.6,3)(16.2,3)(16.8,3)(17.4,3)
(5.3,2)(5.9,2)(6.5,2)(7.1,2)(7.7,2)(8.3,2)(8.9,2)(13.6,2)(14.2,2)(14.8,2)(15.4,2)(16,2)(16.6,2)(17.2,2)
(5,1)(5.4,1)(5.8,1)(6.2,1)(6.6,1)(7,1)(7.4,1)(7.8,1)(8.2,1)(8.6,1)(9,1)(9.7,1)(13.5,1)(14,1)(14.5,1)(15,1)(15.5,1)(16,1)(16.5,1)(17,1)(17.5,1)}
\end{axis}
\begin{axis}[gC, noy, at={(555.3pt,-338pt)}, name=c7]
\V{13.45}\V{14.98}
\C{cblue}{(5.49,8)(5.93,8)(5.74,7)(9.22,7)(5.2,6)(5.6,6)(6,6)(5.2,5)(5.6,5)(6,5)(7.76,5)
(5.2,4)(5.6,4)(6,4)(6.4,4)(6.8,4)(7.2,4)(7.6,4)(8,4)(8.4,4)(8.8,4)(9.2,4)(9.4,4)
(5.3,3)(5.7,3)(6.1,3)(6.5,3)(6.9,3)(7.3,3)(7.7,3)(8.1,3)(8.5,3)(8.9,3)(9.3,3)
(5.2,2)(5.6,2)(6,2)(6.4,2)(6.8,2)(7.2,2)(7.6,2)(8,2)(8.4,2)(8.8,2)(9.2,2)
(5.8,1)(6.2,1)(6.6,1)(7,1)(7.4,1)(7.8,1)(8.2,1)(8.6,1)(9,1)(9.4,1)(9.6,1)}
\T{blue}{(5.82,6)(5.93,5)(5.4,4)(6.1,4)(5.3,3)(5.9,3)(8.5,3)(9.04,3)(5.2,2)(5.7,2)(6.3,2)(9.2,2)(5.27,1)(6.3,1)(6.5,1)(6.7,1)(6.9,1)(7.1,1)(7.3,1)(7.5,1)(7.7,1)(7.9,1)(8.1,1)(8.3,1)(8.5,1)(8.7,1)(8.9,1)(9.1,1)(9.3,1)(9.6,1)}
\end{axis}
\strip{c1}{2014-06-17}\strip{c2}{2014-06-18}\strip{c3}{2014-06-19}\strip{c4}{2014-06-20}\strip{c5}{2014-06-21}\strip{c6}{2014-06-22}\strip{c7}{2014-06-23}
\rstrip{c7}{Cam 3}
% ================= C Cam LB =================
\begin{axis}[gD, at={(29.94pt,-447.9pt)}, name=d1]
\C{cblue}{(13.8,1)(14.3,1)(14.8,1)(15.3,1)(15.8,1)(16.3,1)(16.8,1)(17.3,1)(17.8,1)(13.8,2)(14.3,2)(14.8,2)(15.3,2)(15.8,2)(16.3,2)(16.8,2)(17.3,2)(17.8,2)(13.8,3)(14.3,3)(14.8,3)(15.3,3)(15.8,3)(16.3,3)(16.8,3)(17.3,3)(17.8,3)(14.6,4)(15.1,4)(15.6,4)(16.1,4)(16.6,4)(17.1,4)(17.6,4)(17.9,4)(15.6,5)(15.9,5)(16.3,5)}
\T{blue}{(15,1)(15.4,1)(15.8,1)(16.2,1)(16.6,1)(17,1)(17.4,1)(17.8,1)(15.5,2)(16.2,2)(15.6,3)}
\end{axis}
\begin{axis}[gD, noy, at={(91.22pt,-447.9pt)}, name=d2]
\C{cblue}{(5,1)(5.5,1)(6,1)(6.5,1)(7,1)(7.5,1)(8,1)(8.5,1)(9,1)(9.5,1)(10,1)(10.5,1)(10.8,1)(12.5,1)(13,1)(13.5,1)(14,1)(14.5,1)(15,1)(15.5,1)(16,1)(16.5,1)(17,1)(17.5,1)
(5,2)(5.5,2)(6,2)(6.5,2)(7,2)(7.5,2)(8,2)(8.5,2)(9,2)(9.5,2)(10,2)(10.5,2)(10.8,2)(12.6,2)(13.1,2)(13.6,2)(14.1,2)(14.6,2)(15.1,2)(15.6,2)(16.1,2)(16.6,2)(17.1,2)(17.5,2)
(5.5,3)(6,3)(6.5,3)(7,3)(7.5,3)(8,3)(8.5,3)(9,3)(9.5,3)(10,3)(10.3,3)(13.4,3)(13.9,3)(14.4,3)(14.9,3)(15.4,3)(15.9,3)(16.4,3)(16.9,3)(17.2,3)
(5.34,4)(6.5,4)(7,4)(7.5,4)(8,4)(8.6,4)(9.4,4)(13.8,4)(14.3,4)(14.8,4)(15.3,4)(15.8,4)(16.3,4)(16.7,4)(17,4)
(7.1,5)(8.4,5)(13.5,5)(14.95,5)(16.4,5)(16.7,5)(9.87,6)(14.95,6)(16.4,6)(16.4,7)(10.4,8)}
\T{blue}{(5.1,1)(5.5,1)(5.9,1)(6.3,1)(6.7,1)(7.1,1)(7.5,1)(7.9,1)(9,1)(9.6,1)(10.5,1)(13.2,1)(13.8,1)(14.4,1)(14.8,1)(15.4,1)(16,1)(16.6,1)(17.1,1)(5.3,2)(6,2)(6.8,2)(7.8,2)(9.5,2)(10.2,2)(14.4,2)(15.6,2)(16.4,2)(6.2,3)(7.2,3)(8.3,3)(14.6,3)(15.5,3)(16.9,3)(10.04,4)(10.4,5)}
\end{axis}
\begin{axis}[gD, noy, at={(152.5pt,-447.9pt)}, name=d3]
\V{9.85}\V{11.87}
\C{cblue}{(5.6,8)(6,8)(5.8,7)(6.1,7)(5.5,6)(5.9,6)(6.3,6)(6.7,6)(5.5,5)(5.9,5)(6.3,5)(6.7,5)(7,5)(5.3,4)(5.7,4)(6.1,4)(6.5,4)(6.9,4)(7.3,4)(5.3,3)(5.7,3)(6.1,3)(6.5,3)(6.9,3)(7.3,3)(7.7,3)(8,3)(5.2,2)(5.6,2)(6,2)(6.4,2)(6.8,2)(7.2,2)(7.6,2)(8,2)(8.2,2)
(5.2,1)(5.7,1)(6.2,1)(6.7,1)(7.2,1)(7.7,1)(8.2,1)(8.7,1)(9.2,1)(9.8,1)(11.4,1)(12.5,1)(13,1)(13.5,1)(14,1)(14.5,1)(15,1)(15.5,1)(16,1)(16.5,1)(17,1)(17.5,1)(17.8,1)
(12.8,2)(13.3,2)(13.8,2)(14.3,2)(14.8,2)(15.3,2)(15.8,2)(16.3,2)(16.8,2)(17.3,2)(17.7,2)(13,3)(13.5,3)(14,3)(14.5,3)(15,3)(15.2,3)(17.45,3)(12.65,4)(13,4)(13.5,4)(14,4)(14.5,4)(15,4)(13.4,5)(13.9,5)(14.5,5)(15,5)(13.9,6)}
\T{blue}{(5.98,8)(6,7)(6.2,7)(6.1,5)(5.8,4)(6.2,4)(6.5,4)(5.6,3)(6,3)(6.6,3)(7,3)(5.5,2)(6.2,2)(6.8,2)(7.4,2)(7.8,2)(5.6,1)(6.2,1)(6.8,1)(7.4,1)(8,1)(13,1)(13.6,1)(14.2,1)(14.8,1)(15.3,1)(13.8,2)(14.4,2)(15.2,2)(14.2,3)(14.8,3)}
\end{axis}
\begin{axis}[gD, noy, at={(213.78pt,-447.9pt)}, name=d4]
\V{10.53}\V{12.56}
\C{cblue}{(6.67,8)(5.5,6)(16.6,6)(7.47,5)(14.6,5)(15.2,5)(15.8,5)(16.4,5)
(5.3,4)(5.8,4)(6.3,4)(6.8,4)(7.3,4)(7.8,4)(8.2,4)(15.5,4)(16,4)(16.5,4)(17,4)(17.5,4)
(5.3,3)(5.8,3)(6.3,3)(6.8,3)(7.3,3)(7.8,3)(8.2,3)(9,3)(9.5,3)(10,3)(11.36,3)(14.8,3)(15.3,3)(15.8,3)(16.3,3)(16.8,3)(17.3,3)(17.6,3)
(5.2,2)(5.7,2)(6.2,2)(6.7,2)(7.2,2)(7.7,2)(8.2,2)(8.7,2)(9.3,2)(10.3,2)(11.6,2)(14.6,2)(15.1,2)(15.6,2)(16.1,2)(16.6,2)(17.1,2)(17.6,2)
(5.2,1)(5.7,1)(6.2,1)(6.7,1)(7.2,1)(7.7,1)(8.2,1)(8.7,1)(9.2,1)(9.7,1)(10.2,1)(10.7,1)(11.2,1)(11.7,1)(12.2,1)(12.7,1)(13.2,1)(13.7,1)(14.2,1)(14.7,1)(15.2,1)(15.7,1)(16.2,1)(16.7,1)(16.9,1)}
\T{blue}{(5.3,1)(5.8,1)(6.3,1)(6.8,1)(7.3,1)(7.8,1)(8.3,1)(8.8,1)(14.8,1)(15.4,1)(16,1)(16.6,1)(5.5,2)(6,2)(6.6,2)(7.1,2)(7.6,2)(8.1,2)(15,2)(16.1,2)(5.6,3)(6.2,3)(6.8,3)(7.3,3)(15.2,3)(6,4)(6.6,4)}
\end{axis}
\begin{axis}[gD, noy, at={(275.06pt,-447.9pt)}, name=d5]
\V{10.27}\V{12.4}
\C{cblue}{(5.22,10)(12.53,10)(6.24,9)(9.06,8)(13.6,8)(14.93,8)(7.46,7)(12.5,7)(13,7)(13.5,7)(14,7)(14.5,7)(14.9,7)
(5.5,6)(6,6)(6.5,6)(7,6)(7.5,6)(8,6)(8.5,6)(9.2,6)(12.5,6)(13,6)(13.5,6)(14,6)(14.5,6)(15,6)
(5.3,5)(5.8,5)(6.3,5)(6.8,5)(7.3,5)(7.8,5)(8.3,5)(8.8,5)(9.5,5)(12.6,5)(13.1,5)(13.6,5)(14.1,5)(14.6,5)(15,5)
(5.3,4)(5.8,4)(6.3,4)(6.8,4)(7.3,4)(7.8,4)(8.3,4)(8.8,4)(9.5,4)(12.6,4)(13.1,4)(13.6,4)(14.1,4)(14.6,4)(15.1,4)(15.5,4)
(5.3,3)(5.8,3)(6.3,3)(6.8,3)(7.3,3)(7.8,3)(8.3,3)(8.8,3)(9.3,3)(10,3)(12.5,3)(13,3)(13.5,3)(14,3)(14.5,3)(15,3)(15.5,3)(16,3)(16.5,3)(17,3)(17.5,3)(17.95,3)
(5.2,2)(5.7,2)(6.2,2)(6.7,2)(7.2,2)(7.7,2)(8.2,2)(8.7,2)(9.2,2)(9.7,2)(10.2,2)(10.7,2)(11.2,2)(11.7,2)(12.2,2)(12.7,2)(13.2,2)(13.7,2)(14.2,2)(14.7,2)(15.2,2)(15.7,2)(16.2,2)(16.7,2)(17.2,2)(17.7,2)(17.95,2)
(5.2,1)(5.7,1)(6.2,1)(6.7,1)(7.2,1)(7.7,1)(8.2,1)(8.7,1)(9.2,1)(9.7,1)(12.5,1)(13,1)(13.5,1)(14,1)(14.5,1)(15,1)(15.5,1)(16.2,1)}
\T{blue}{(12.53,8)(5.22,7)(8.8,7)(5.85,6)(8.8,6)(12.5,5)(13.1,5)(5.5,4)(12.6,4)(13.4,4)(15,4)
(5.6,3)(6.2,3)(6.8,3)(7.4,3)(8,3)(8.6,3)(9.2,3)(12.6,3)(13.2,3)(13.8,3)(14.4,3)(15,3)
(5.4,2)(6,2)(6.6,2)(7.2,2)(7.8,2)(8.4,2)(9,2)(9.6,2)(12.8,2)(13.6,2)(14.4,2)(15.2,2)
(5.3,1)(5.9,1)(6.5,1)(7.1,1)(7.7,1)(8.3,1)(8.9,1)(9.5,1)(10.1,1)(12.5,1)(13.1,1)(13.7,1)(14.3,1)(14.9,1)(15.5,1)}
\end{axis}
\begin{axis}[gD, noy, at={(336.34pt,-447.9pt)}, name=d6]
\V{12.04}\V{14.55}
\C{cblue}{(5.87,7)(6.67,7)(7.63,7)(9.87,7)(16.17,7)(7.63,6)(9.87,6)(16.17,6)(5.07,5)(5.5,5)(6,5)(6.5,5)(7,5)(7.5,5)(8,5)(8.27,5)(9.87,5)(12,5)
(5,4)(5.5,4)(6,4)(6.5,4)(7,4)(7.5,4)(8,4)(8.5,4)(10.3,4)(12,4)(16.2,4)
(5,3)(5.5,3)(6,3)(6.5,3)(7,3)(7.5,3)(8,3)(8.5,3)(9,3)(9.5,3)(10,3)(10.5,3)(11,3)(11.5,3)(12,3)(12.5,3)(13,3)(13.5,3)(14,3)(14.5,3)(15,3)(15.5,3)(16,3)(16.5,3)(17,3)(17.5,3)
(5,2)(5.5,2)(6,2)(6.5,2)(7,2)(7.5,2)(8,2)(8.5,2)(9,2)(9.5,2)(10,2)(10.5,2)(11,2)(11.5,2)(12,2)(12.5,2)(13,2)(13.5,2)(14,2)(14.5,2)(15,2)(15.5,2)(16,2)(16.5,2)(17,2)(17.5,2)
(5.5,1)(6,1)(6.5,1)(7,1)(7.5,1)(8,1)(8.5,1)(9,1)(9.5,1)(10,1)(10.5,1)(11,1)(11.5,1)(12,1)(12.5,1)(17.35,1)}
\T{blue}{(6.13,5)(7.6,5)(5.33,4)(12,4)(16.2,4)(5.5,3)(6.3,3)(7.1,3)(7.9,3)(8.7,3)(9.5,3)(10.3,3)(11.1,3)(11.9,3)(16.2,3)
(5,2)(5.6,2)(6.2,2)(6.8,2)(7.4,2)(8,2)(8.6,2)(9.2,2)(9.8,2)(10.4,2)(11,2)(11.6,2)(12.2,2)
(5,1)(5.8,1)(6.6,1)(7.4,1)(8.2,1)(9,1)(9.8,1)(10.6,1)(11.4,1)(12.2,1)(12.9,1)(17.35,1)}
\end{axis}
\begin{axis}[gD, noy, at={(397.62pt,-447.9pt)}, name=d7]
\V{11.98}\V{14.1}
\C{cblue}{(5.33,7)(13.18,7)(5.33,6)(8.5,6)(14.5,6)(15,6)(15.5,6)(16,6)(16.5,6)(16.9,6)
(5.2,5)(5.6,5)(6,5)(6.4,5)(6.8,5)(7.6,5)(8.1,5)(8.6,5)(9.2,5)(13.2,5)(13.7,5)(14.2,5)(14.7,5)(15.2,5)(15.7,5)(16.2,5)(16.9,5)
(4.9,4)(5.4,4)(5.9,4)(6.4,4)(6.9,4)(7.4,4)(7.9,4)(8.4,4)(8.9,4)(9.4,4)(9.9,4)(10.4,4)(10.9,4)(11.3,4)(13.2,4)(14.5,4)(15,4)(15.5,4)(16,4)(16.5,4)(17,4)(17.5,4)
(5,3)(5.5,3)(6,3)(6.5,3)(7,3)(7.5,3)(8,3)(8.5,3)(9,3)(9.5,3)(10,3)(10.5,3)(11,3)(11.5,3)(12,3)(12.5,3)(13,3)(13.5,3)(14,3)(14.5,3)(15,3)(15.5,3)(16,3)(16.5,3)(17,3)(17.5,3)
(5,2)(5.5,2)(6,2)(6.5,2)(7,2)(7.5,2)(8,2)(8.5,2)(9,2)(9.5,2)(10,2)(10.5,2)(11,2)(11.5,2)(12,2)(12.5,2)(13,2)(13.5,2)(14,2)(14.5,2)(15,2)(15.5,2)(16,2)(16.5,2)(17,2)(17.5,2)
(5,1)(5.5,1)(6,1)(6.5,1)(7,1)(7.5,1)(8,1)(8.5,1)(9,1)(9.5,1)(10,1)(10.5,1)(11,1)(11.5,1)(12,1)(12.5,1)(13,1)(13.5,1)(14,1)(14.5,1)(15,1)(15.5,1)(16,1)(16.5,1)(17,1)(17.5,1)}
\T{blue}{(5.3,5)(5.3,4)(14.5,4)(16.1,4)(6,3)(7,3)(8,3)(9,3)(13.5,3)(14.5,3)(15.5,3)(16.5,3)(17.4,3)
(5.5,2)(6.3,2)(7.1,2)(7.9,2)(8.7,2)(9.5,2)(10.3,2)(11.1,2)(13.1,2)(13.9,2)(14.7,2)(15.5,2)(16.3,2)(17.1,2)
(5.2,1)(7.5,1)(7.8,1)(8.1,1)(8.4,1)(8.7,1)(9,1)(9.3,1)(9.6,1)(9.9,1)(10.2,1)(10.5,1)(10.8,1)(11.1,1)(11.4,1)(11.7,1)(12.3,1)(12.6,1)(12.9,1)(13.2,1)(13.5,1)(13.8,1)(14.1,1)(14.4,1)(14.7,1)(15,1)(15.3,1)(15.6,1)(15.9,1)(16.2,1)(16.5,1)(16.8,1)(17.1,1)(17.4,1)}
\end{axis}
\begin{axis}[gD, noy, at={(458.9pt,-447.9pt)}, name=d8]
\V{8.56}\V{10.6}
\C{cblue}{(15.1,6)(7.74,5)(12.3,5)(12.8,5)(16.4,5)(5.6,4)(7.47,4)(12.3,4)(12.8,4)(13.3,4)(13.9,4)(16.8,4)
(5.33,3)(7.74,3)(9.6,3)(10.1,3)(10.6,3)(11.1,3)(11.6,3)(12,3)(14.15,3)(16.55,3)
(5.07,2)(5.5,2)(6,2)(6.5,2)(7,2)(7.5,2)(8,2)(8.5,2)(9,2)(9.5,2)(10,2)(10.7,2)(14.15,2)(14.6,2)(15,2)(15.5,2)(16.55,2)
(14.95,1)(15.4,1)(15.9,1)(16.4,1)(16.9,1)(17.4,1)(17.9,1)}
\T{blue}{(15.1,5)(16.8,4)(5.4,3)(7.8,3)(16.7,3)(16.9,2)(5.4,1)(6.1,1)(6.7,1)(7.2,1)(7.7,1)(8.3,1)(12.2,1)(12.4,1)(16.2,1)(16.8,1)(17.5,1)}
\end{axis}
\begin{axis}[gD, noy, at={(520.18pt,-447.9pt)}, name=d9]
\V{9.05}\V{11.02}
\C{cblue}{(5.7,2)(5.44,1)(6.24,1)(12,2)(14.9,2)(16.4,2)(16.4,3)(17.2,3)(13.7,1)(14.2,1)(14.7,1)(15.2,1)(15.7,1)(16.2,1)(16.7,1)(17.2,1)(17.5,1)}
\T{blue}{(12,1)(14.8,1)(15.6,1)(17.3,1)}
\end{axis}
\begin{axis}[gD, noy, at={(581.46pt,-447.9pt)}, name=d10]
\end{axis}
\strip{d1}{2014-08-17}\strip{d2}{2014-08-18}\strip{d3}{2014-08-19}\strip{d4}{2014-08-20}\strip{d5}{2014-08-21}
\strip{d6}{2014-08-22}\strip{d7}{2014-08-23}\strip{d8}{2014-08-24}\strip{d9}{2014-08-25}\strip{d10}{2014-08-26}
\rstrip{d10}{Cam LB}
% ================= labels =================
\node[anchor=north west, inner sep=0pt, font=\fontsize{12}{13}\selectfont\bfseries] at (1.4pt,-3.4pt) {A};
\node[anchor=north west, inner sep=0pt, font=\fontsize{12}{13}\selectfont\bfseries] at (1.4pt,-117.9pt) {B};
\node[anchor=north west, inner sep=0pt, font=\fontsize{12}{13}\selectfont\bfseries] at (1.4pt,-307.4pt) {C};
\node[rotate=90, font=\ttl, inner sep=0pt] at (5.4pt,-54.5pt) {Number of fish};
\node[rotate=90, font=\ttl, inner sep=0pt] at (5.4pt,-212.6pt) {Number of fish};
\node[rotate=90, font=\ttl, inner sep=0pt] at (5.4pt,-371.6pt) {Number of fish};
\node[rotate=90, font=\ttl, inner sep=0pt] at (5.4pt,-481pt) {Number of fish};
\node[anchor=base, font=\ttl, inner sep=0pt] at (333.4pt,-112.9pt) {Time of day (24 hrs)};
\node[anchor=base, font=\ttl, inner sep=0pt] at (333.4pt,-308pt) {Time of day (24 hrs)};
\node[anchor=base, font=\ttl, inner sep=0pt] at (333.4pt,-539.7pt) {Time of day (24 hrs)};
\end{tikzpicture}
\end{document}
